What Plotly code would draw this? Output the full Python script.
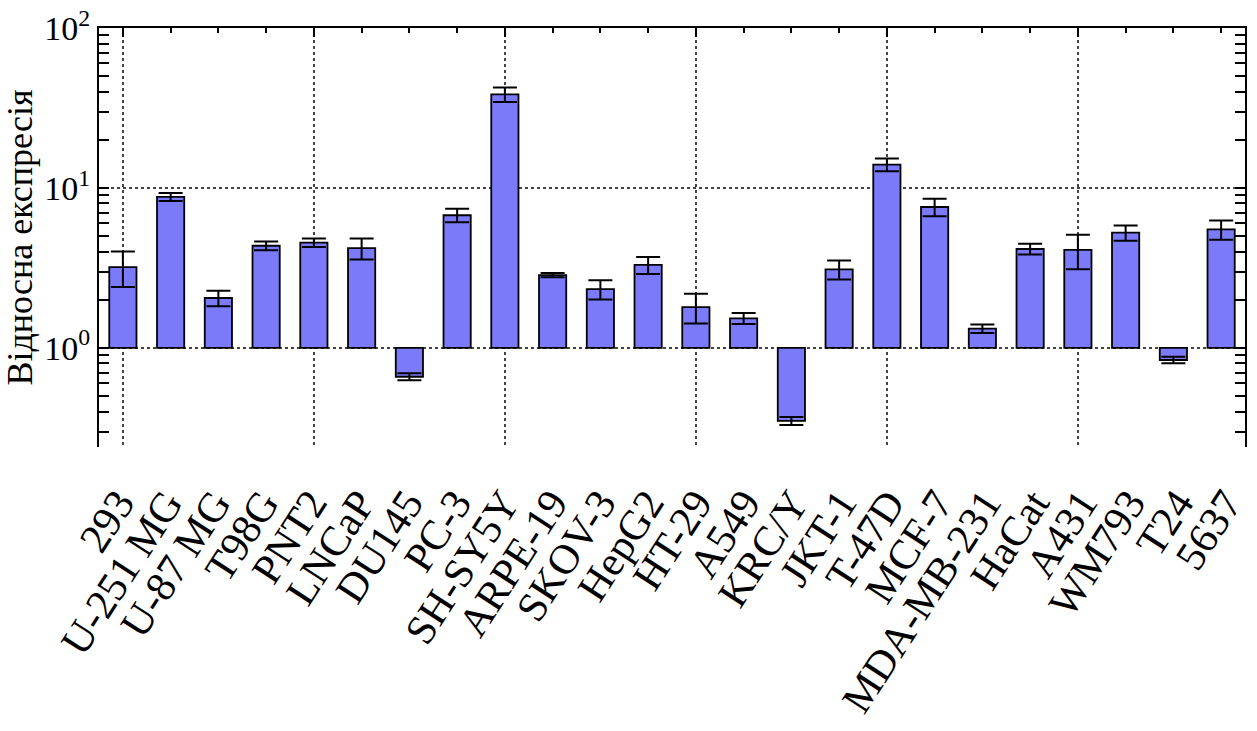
import numpy as np
import plotly.graph_objects as go

# Cell lines and relative expression (mean, error)
cells = ["293", "U-251 MG", "U-87 MG", "T98G", "PNT2", "LNCaP", "DU145", "PC-3",
         "SH-SY5Y", "ARPE-19", "SKOV-3", "HepG2", "HT-29", "A549", "KRC/Y", "JKT-1",
         "T-47D", "MCF-7", "MDA-MB-231", "HaCat", "A431", "WM793", "T24", "5637"]
expr = [3.2, 8.8, 2.05, 4.35, 4.55, 4.2, 0.66, 6.75,
        38.5, 2.85, 2.33, 3.3, 1.8, 1.53, 0.35, 3.1,
        14.0, 7.6, 1.32, 4.15, 4.1, 5.25, 0.84, 5.5]
err = [0.8, 0.5, 0.23, 0.27, 0.28, 0.63, 0.033, 0.65,
       4.0, 0.09, 0.32, 0.4, 0.38, 0.12, 0.02, 0.42,
       1.3, 0.95, 0.08, 0.32, 1.0, 0.57, 0.04, 0.75]

y_ticks = [1, 10, 100]
y_ticktext = ["10<sup>0</sup>", "10<sup>1</sup>", "10<sup>2</sup>"]

SERIF = "Liberation Serif, Times New Roman, serif"
BASE = 1.0
pos = list(range(len(cells)))

fig = go.Figure()
fig.add_trace(go.Bar(
    x=pos,
    y=[v - BASE for v in expr],
    base=BASE,
    width=0.57,
    marker=dict(color="#7b7bfa", line=dict(color="black", width=1.8)),
    error_y=dict(type="data", array=err, visible=True, color="black",
                 thickness=2, width=12),
    showlegend=False,
))
# carrier trace for the label axis
fig.add_trace(go.Scatter(x=[None], y=[None], xaxis="x2", showlegend=False,
                         hoverinfo="skip"))

minor_vals = []
for d in [0.1, 1, 10]:
    for k in range(2, 10):
        minor_vals.append(k * d)

fig.update_layout(
    width=1257, height=731,
    margin=dict(l=99, r=12, t=28, b=284),
    paper_bgcolor="white",
    plot_bgcolor="white",
    font=dict(family=SERIF, color="black"),
    bargap=0.4,
    xaxis=dict(
        side="top",
        automargin=False,
        range=[-0.5, len(cells) - 0.5],
        tickmode="array",
        tickvals=pos[::4],
        showticklabels=False,
        ticks="inside", ticklen=9, tickwidth=2, tickcolor="black",
        showline=True, linecolor="black", linewidth=2, mirror=False,
        showgrid=True, gridcolor="#444", griddash="dot", gridwidth=1.5,
        minor=dict(dtick=1, ticks="inside", ticklen=5, tickwidth=1.5,
                   tickcolor="black", showgrid=False),
        zeroline=False,
    ),
    xaxis2=dict(
        overlaying="x", side="bottom", anchor="y",
        automargin=False,
        range=[-0.4, len(cells) - 0.6],
        tickmode="array", tickvals=pos, ticktext=cells,
        tickangle=-57, ticks="", ticklabelstandoff=22,
        tickfont=dict(family=SERIF, size=42, color="black"),
        showline=False, showgrid=False, zeroline=False,
    ),
    yaxis=dict(
        type="log",
        automargin=False,
        range=[np.log10(0.24), 2.0],
        tickmode="array", tickvals=y_ticks, ticktext=y_ticktext,
        tickfont=dict(family=SERIF, size=34, color="black"),
        ticks="inside", ticklen=10, tickwidth=2, tickcolor="black",
        showline=True, linecolor="black", linewidth=2, mirror="allticks",
        showgrid=True, gridcolor="#444", griddash="dot", gridwidth=1.5,
        minor=dict(tickmode="array", tickvals=minor_vals, ticks="inside",
                   ticklen=6, tickwidth=1.5, tickcolor="black", showgrid=False),
        zeroline=False,
        title=dict(text="Відносна експресія",
                   font=dict(family=SERIF, size=36, color="black"),
                   standoff=6),
    ),
)

fig.write_html("out.html")
